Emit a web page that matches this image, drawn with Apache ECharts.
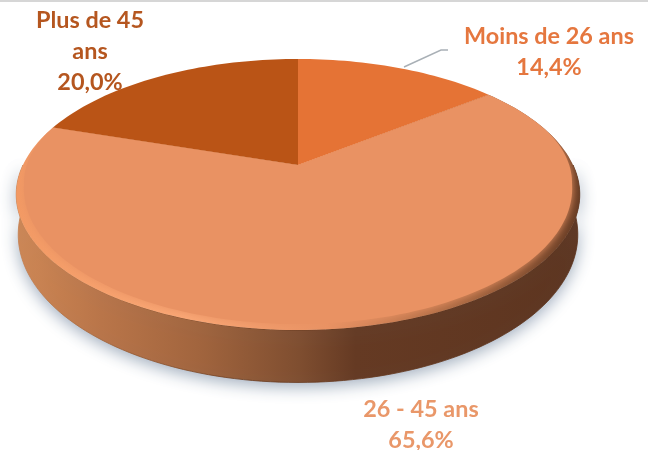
<!DOCTYPE html>
<html>
<head>
<meta charset="utf-8">
<style>
  html, body { margin: 0; padding: 0; background: #fff; }
  #main { width: 648px; height: 450px; }
</style>
</head>
<body>
<div id="main"></div>
<script src="https://cdn.jsdelivr.net/npm/echarts@6/dist/echarts.min.js"></script>
<script>
var categories = ['Moins de 26 ans', '26 - 45 ans', 'Plus de 45 ans'];
var shares = [14.4, 65.6, 20.0];
var colors = ['#e57335', '#e99263', '#ba5416'];
var labelColors = ['#e5773f', '#e99769', '#b5561f'];
var labelLines = [['Moins de 26 ans'], ['26 - 45 ans'], ['Plus de 45', 'ans']];
var labelPos = [[549, 52], [421, 425], [90, 51]];

var myChart = echarts.init(document.getElementById('main'));

// perspective of the disc : apex, reach and tilt measured on the picture
var apexX = 298, apexY = 165;
var tilt = 0.2177, radX = 275, radY = 129.1;

function project (deg) {
  var t = deg * Math.PI / 180;
  var d = 1 + tilt * Math.cos(t);
  return [apexX + radX * Math.sin(t) / d, apexY - radY * Math.cos(t) / d];
}
// lower edge of the wall
function drop (p) {
  return [299 + (p[0] - 299) * 0.993, 235 + (p[1] - 195) * 1.092];
}
// top face sits inside the rim at the front, nothing at the back
function inset (p) {
  var t = Math.min(1, Math.max(0, (p[1] - 100) / 90));
  return [299 + (p[0] - 299) * (1 - 0.027 * t), p[1] - 6 * t];
}
function arc (from, to) {
  var pts = [];
  var n = Math.max(2, Math.ceil(Math.abs(to - from) / 1.5));
  for (var i = 0; i <= n; i++) {
    pts.push(project(from + (to - from) * i / n));
  }
  return pts;
}

var total = shares.reduce(function (a, b) { return a + b; }, 0);
var running = 0;
var sliceData = shares.map(function (v, i) {
  var start = running;
  running += v;
  return [i, start / total * 360, running / total * 360, v];
});

var wallFill = new echarts.graphic.LinearGradient(17, 0, 581, 0, [
  { offset: 0, color: '#cf8754' },
  { offset: 0.15, color: '#b97549' },
  { offset: 0.32, color: '#a2653e' },
  { offset: 0.5, color: '#7f4e30' },
  { offset: 0.6, color: '#653a23' },
  { offset: 1, color: '#5d3520' }
], true);
var wallEdge = new echarts.graphic.LinearGradient(17, 0, 581, 0, [
  { offset: 0, color: '#c67f4f' },
  { offset: 0.2, color: '#96592f' },
  { offset: 0.4, color: '#6a3b1e' },
  { offset: 1, color: '#5a3019' }
], true);
var rimFill = new echarts.graphic.LinearGradient(17, 0, 581, 0, [
  { offset: 0, color: '#f39a64' },
  { offset: 0.3, color: '#fba876' },
  { offset: 0.55, color: '#e99263' },
  { offset: 0.8, color: '#a5653f' },
  { offset: 1, color: '#663b23' }
], true);

function renderSlice (params, api) {
  var idx = api.value(0);
  var start = api.value(1);
  var end = api.value(2);
  var children = [];
  var outline = arc(start, end);
  var apex = [apexX, apexY];
  var holdsFront = start < 180 && end > 180;

  if (holdsFront) {
    var from = Math.max(start, 90), to = Math.min(end, 270);
    var upper = arc(from, to);
    var lower = upper.map(drop).reverse();
    children.push({
      type: 'polygon',
      z2: 1,
      shape: { points: upper.concat(lower) },
      style: {
        fill: wallFill,
        stroke: wallEdge,
        lineWidth: 0.8,
        shadowBlur: 16,
        shadowColor: 'rgba(110,130,155,0.65)',
        shadowOffsetY: 4
      }
    });
    children.push({
      type: 'polygon',
      z2: 2,
      shape: { points: [apex].concat(outline) },
      style: { fill: rimFill }
    });
  }
  var face = {
    type: 'polygon',
    z2: holdsFront ? 3 : 4,
    shape: { points: [apex].concat(holdsFront ? outline.map(inset) : outline) },
    style: { fill: colors[idx] }
  };
  if (holdsFront) {
    // soft edge, kept inside the disc
    face.style.shadowBlur = 9;
    face.style.shadowColor = colors[idx];
    face.clipPath = { type: 'polygon', shape: { points: [apex].concat(outline) } };
  }
  children.push(face);

  var pct = api.value(3).toFixed(1).replace('.', ',') + '%';
  children.push({
    type: 'text',
    z2: 6,
    style: {
      text: labelLines[idx].concat(pct).join('\n'),
      x: labelPos[idx][0],
      y: labelPos[idx][1],
      fill: labelColors[idx],
      font: 'bold 23.4px Lato',
      lineHeight: 31,
      align: 'center',
      verticalAlign: 'middle'
    }
  });
  return { type: 'group', children: children };
}

var option = {
  animation: false,
  backgroundColor: '#fff',
  graphic: [
    {
      type: 'rect',
      shape: { x: 0, y: 0, width: 648, height: 2 },
      style: { fill: '#d6d6d6' }
    },
    {
      type: 'polyline',
      z: 5,
      shape: { points: [[404, 67], [441, 50], [448, 50]] },
      style: { stroke: '#a9b0b6', lineWidth: 1.4, fill: null }
    }
  ],
  series: [
    {
      type: 'custom',
      coordinateSystem: 'none',
      silent: true,
      renderItem: renderSlice,
      data: sliceData
    }
  ]
};
myChart.setOption(option);
</script>
</body>
</html>
